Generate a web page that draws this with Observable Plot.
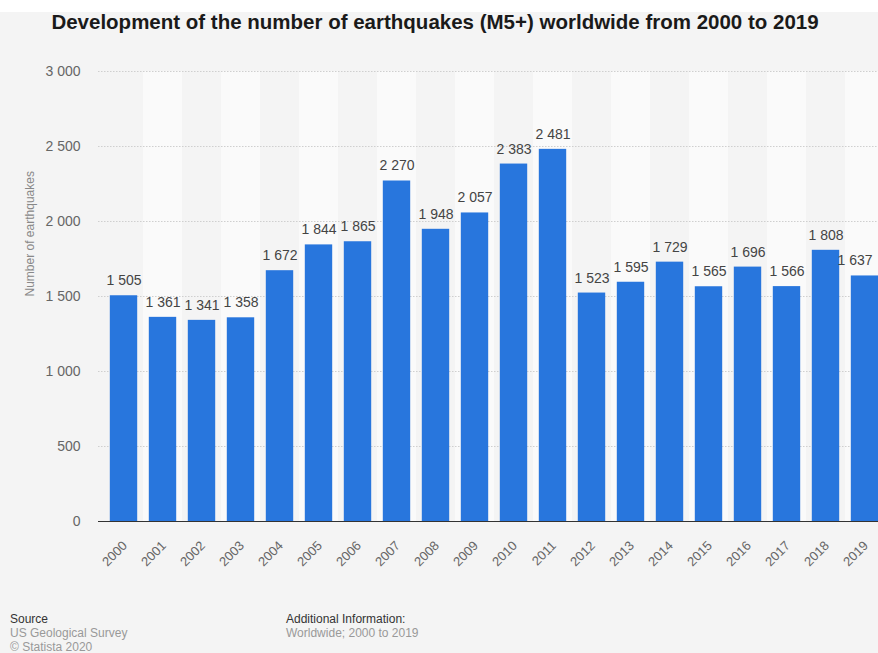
<!DOCTYPE html>
<html>
<head>
<meta charset="utf-8">
<script src="https://cdn.jsdelivr.net/npm/d3@7"></script>
<script src="https://cdn.jsdelivr.net/npm/@observablehq/plot@0.6"></script>
<style>
  html, body { margin: 0; padding: 0; overflow: hidden; background: #f4f4f4; }
  #page { position: relative; width: 878px; height: 653px; overflow: hidden; background: #f4f4f4; font-family: "Liberation Sans", Arial, Helvetica, sans-serif; }
  #topstrip { position: absolute; left: 0; top: 0; width: 878px; height: 12px; background: #fff; }
  #title { position: absolute; left: 0; top: 10px; width: 870px; text-align: center; font-weight: bold; font-size: 20.5px; color: #1a1a1a; }
  #chart { position: absolute; left: 0; top: 0; width: 900px; }
  #chart svg { max-width: none !important; }
  .foot { position: absolute; font-size: 12px; line-height: 14px; color: #999; }
  .foot b { font-weight: normal; color: #333; }
</style>
</head>
<body>
<div id="page">
  <div id="topstrip"></div>
  <div id="chart"></div>
  <div id="title">Development of the number of earthquakes (M5+) worldwide from 2000 to 2019</div>
  <div class="foot" style="left:10px; top:612px;"><b>Source</b><br>US Geological Survey<br>© Statista 2020</div>
  <div class="foot" style="left:286px; top:612px;"><b>Additional Information:</b><br>Worldwide; 2000 to 2019</div>
</div>
<script>
const years = ["2000","2001","2002","2003","2004","2005","2006","2007","2008","2009","2010","2011","2012","2013","2014","2015","2016","2017","2018","2019"];
const counts = [1505, 1361, 1341, 1358, 1672, 1844, 1865, 2270, 1948, 2057, 2383, 2481, 1523, 1595, 1729, 1565, 1696, 1566, 1808, 1637];
const yTicks = [0, 500, 1000, 1500, 2000, 2500, 3000];
const yMax = 3000;

const data = years.map((y, i) => ({year: y, count: counts[i]}));
const bands = years.filter((y, i) => i % 2 === 1);
const fmt = d3.formatLocale({thousands: " ", grouping: [3], decimal: "."}).format(",");
const lastYear = years[years.length - 1];

const chart = Plot.plot({
  width: 900,
  height: 600,
  marginLeft: 98,
  marginRight: 10.4,
  marginTop: 71,
  marginBottom: 79,
  style: {background: "transparent", maxWidth: "none", fontFamily: "'Liberation Sans', Arial, Helvetica, sans-serif"},
  x: {domain: years, padding: 0, axis: null},
  y: {domain: [0, yMax], axis: null},
  marks: [
    Plot.barY(bands, {x: d => d, y1: 0, y2: yMax, fill: "#fafafa"}),
    Plot.ruleY(yTicks.filter(t => t > 0), {stroke: "#cfcfcf", strokeDasharray: "1.5 1.5", strokeWidth: 1}),
    Plot.barY(data, {x: "year", y: "count", fill: "#2876dd", insetLeft: 5.8, insetRight: 5.8}),
    Plot.ruleY([0], {stroke: "#333", strokeWidth: 1.2}),
    Plot.text(data.filter(d => d.year !== lastYear), {x: "year", y: "count", text: d => fmt(d.count), dy: -15, fill: "#444", fontSize: 14}),
    Plot.text(data.filter(d => d.year === lastYear), {x: "year", y: "count", text: d => fmt(d.count), dy: -15, dx: -10, fill: "#444", fontSize: 14}),
    Plot.text(years, {x: d => d, y: 0, text: d => d, rotate: -45, textAnchor: "end", dy: 22, dx: 1, fill: "#666", fontSize: 13}),
    Plot.axisY(yTicks, {tickSize: 0, tickPadding: 18, tickFormat: fmt, fill: "#666", fontSize: 14, label: null}),
    Plot.text(["Number of earthquakes"], {frameAnchor: "left", dx: -68, rotate: -90, fill: "#888", fontSize: 12})
  ]
});
chart.style.maxWidth = "none";
document.getElementById("chart").appendChild(chart);
</script>
</body>
</html>
